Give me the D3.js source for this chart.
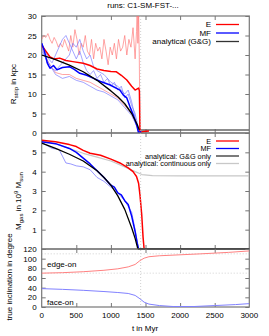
<!DOCTYPE html>
<html>
<head>
<meta charset="utf-8">
<script src="https://cdn.jsdelivr.net/npm/d3@7"></script>
<style>
body { margin:0; background:#fff; }
text { font-family: "Liberation Sans", Arial, sans-serif; font-size:8px; fill:#000; }
</style>
</head>
<body>
<div id="main"></div>
<script>

// ---- top panel: stripping radius (kpc) ----
var rE = [[0,22.5],[60,21],[120,19.5],[180,19],[260,19.2],[350,18.6],[450,18.3],[600,17.9],[700,17.3],[800,16.4],[900,16],[1000,15.8],[1080,15.7],[1150,14.8],[1230,13.6],[1300,12],[1350,11],[1400,11.5],[1412,10.8],[1420,0.2],[1480,0.4],[1550,0.5]]
var rMF = [[0,23],[40,21],[80,18],[120,16.6],[170,17.3],[220,16.2],[300,16.8],[400,17],[470,16.3],[550,15.3],[650,14.8],[750,14],[850,13.2],[990,12.3],[1130,11],[1180,9.7],[1230,9],[1276,6.7],[1324,4.6],[1373,2],[1397,0.2],[1440,0.3]]
var rGG = [[0,20],[200,18.8],[400,17.4],[600,15.7],[800,13.5],[1000,10.8],[1100,9.3],[1200,7.5],[1300,5],[1380,2.2],[1410,0.8]]
var rGGflat = [[1410,0.8],[3000,0.8]]
var rEthinA = [[0,24],[30,25],[60,24.5],[90,25.5],[120,24],[150,23],[180,24.5],[210,23.5],[240,22],[270,23],[300,22],[330,24],[360,22.5],[390,21],[420,25],[450,22],[480,26.5],[510,24],[540,20],[570,23],[600,22],[630,25],[660,21],[690,20],[720,24],[750,19],[780,23],[810,21],[840,22],[870,19],[900,24],[930,21],[960,17.5],[990,22],[1020,20],[1050,23],[1080,19],[1110,24],[1140,21],[1170,22],[1200,25],[1230,20],[1260,24],[1290,22],[1320,27],[1350,19],[1370,26],[1380,33],[1390,23],[1400,31],[1410,20],[1420,0]]
var rEthinB = [[0,22],[100,18],[200,15.5],[300,15],[400,15],[500,14],[600,13.5],[700,13],[800,12],[900,11],[1000,10],[1100,9],[1200,7],[1300,5],[1380,2],[1420,0]]
var rMFthinA = [[0,23],[50,21],[100,19],[150,18],[200,20],[250,22],[300,24],[350,25],[400,23],[450,21],[500,19],[550,21],[600,18],[650,16],[700,15],[750,16],[800,14],[850,15],[900,13],[950,14],[1000,12],[1050,13],[1100,11],[1150,12],[1200,9],[1250,10],[1300,7],[1350,5],[1400,1],[1420,0]]
var rMFthinB = [[0,22],[100,17],[200,16],[300,18],[400,20],[450,23],[500,22],[550,24],[600,21],[650,19],[700,20],[750,17],[800,16],[900,15],[1000,13],[1100,12],[1200,10],[1250,11],[1300,8],[1350,4],[1400,0.5]]
var rMFthinC = [[0,21],[100,18],[200,15],[300,14],[400,14.5],[500,13.5],[600,13],[700,12],[800,11],[900,10.5],[1000,9.5],[1100,8.5],[1200,6.5],[1300,4.5],[1380,1.5],[1400,0.3]]

// ---- middle panel: gas mass (10^9 Msun) ----
var mE = [[0,5.62],[200,5.55],[400,5.4],[500,5.3],[600,5.1],[700,4.95],[850,4.85],[1000,4.65],[1130,4.45],[1250,4.2],[1320,4],[1370,3.75],[1400,3.4],[1420,2.8],[1445,1.8],[1465,0.6],[1480,0]]
var mMF = [[0,5.55],[200,5.45],[400,5.2],[500,5],[600,4.7],[700,4.4],[800,4.05],[900,3.7],[1000,3.3],[1050,3.2],[1100,2.9],[1150,2.8],[1200,2.5],[1250,2.3],[1300,1.7],[1350,0.9],[1380,0.3],[1400,0]]
var mMFthin = [[0,5.55],[100,5.3],[150,5.2],[250,5.15],[300,4.8],[350,4.45],[420,4.4],[500,4.3],[600,4.25],[700,4.1],[800,3.7],[900,3.5],[1000,3.2],[1100,2.9],[1200,2.5],[1300,1.9],[1350,1],[1400,0]]
var mGG = [[0,5.48],[200,5.2],[400,4.9],[600,4.55],[800,4.05],[900,3.7],[1000,3.3],[1100,2.75],[1200,2.05],[1300,1.1],[1350,0.55],[1390,0],[3000,0]]
var mCont = [[0,5.6],[200,5.45],[400,5.2],[600,4.95],[800,4.75],[1000,4.55],[1200,4.25],[1350,4],[1450,3.85],[1600,3.8],[2000,3.78],[3000,3.78]]

// ---- bottom panel: inclination (degree) ----
var iEdge = [[0,70],[300,71],[600,73],[900,76],[1100,79],[1250,83],[1350,88],[1420,96],[1480,101],[1550,104],[1700,106],[2000,108],[2300,110],[2700,113],[3000,116]]
var iFace = [[0,38],[300,36.5],[600,34.5],[900,32],[1100,30],[1250,28],[1350,24],[1420,17],[1480,10],[1550,6],[1700,3],[1900,1],[2200,1],[2500,3],[2800,5],[3000,7]]

var xTicks = [0,500,1000,1500,2000,2500,3000]
var rTicks = [0,5,10,15,20,25,30]
var mTicks = [1,2,3,4,5]
var iTicks = [0,20,40,60,80,100,120]
var iGrid = [70,110]
var tPeri = 1430

var svg = d3.select('#main')
  .append('svg')
  .attr("width", 269)
  .attr("height", 336)

var x = d3.scaleLinear().domain([0,3000]).range([41.7,249.3])
var yR = d3.scaleLinear().domain([0,30]).range([133,16])
var yM = d3.scaleLinear().domain([0,6]).range([249,133])
var yI = d3.scaleLinear().domain([0,120]).range([307,249])

var frameCol = "#777"

function panel(id, y, ticks, labels) {
  var g = svg.append('g')
  g.append('clipPath').attr('id', id)
    .append('rect')
    .attr('x', x.range()[0]).attr('y', y.range()[1])
    .attr('width', x.range()[1]-x.range()[0])
    .attr('height', y.range()[0]-y.range()[1])

  // inward ticks, all four sides
  var ax = d3.axisLeft(y).tickValues(ticks).tickSize(-4).tickPadding(5)
    .tickFormat(d => labels.indexOf(d) >= 0 ? d : "")
  g.append('g').attr('transform', 'translate(' + x.range()[0] + ',0)').call(ax)
  g.append('g').attr('transform', 'translate(' + x.range()[1] + ',0)')
    .call(d3.axisRight(y).tickValues(ticks).tickSize(-4).tickFormat(""))
  g.append('g').attr('transform', 'translate(0,' + y.range()[1] + ')')
    .call(d3.axisTop(x).tickValues(xTicks.slice(1,-1)).tickSize(-4).tickFormat(""))
  g.append('g').attr('transform', 'translate(0,' + y.range()[0] + ')')
    .call(d3.axisBottom(x).tickValues(xTicks.slice(1,-1)).tickSize(-4).tickFormat(""))
  g.selectAll('.domain').remove()
  g.selectAll('.tick line').attr('stroke', frameCol).attr('stroke-width', 1)
  g.selectAll('.tick text').style('font-size', '8px')

  var c = svg.append('g').attr('clip-path', 'url(#' + id + ')')
  return {g: g, c: c, y: y}
}

function draw(p, data, color, width, opacity) {
  p.c.append('path')
    .datum(data)
    .attr('fill', 'none')
    .attr('stroke', color)
    .attr('stroke-width', width)
    .attr('stroke-opacity', opacity)
    .attr('stroke-linejoin', 'round')
    .attr('d', d3.line().x(d => x(d[0])).y(d => p.y(d[1])))
}

var pR = panel('clipR', yR, rTicks, rTicks)
var pM = panel('clipM', yM, [0,1,2,3,4,5,6], mTicks)
var pI = panel('clipI', yI, iTicks, iTicks)

// dotted guides
iGrid.forEach(v => {
  pI.c.append('line')
    .attr('x1', x(0)).attr('x2', x(3000))
    .attr('y1', yI(v)).attr('y2', yI(v))
    .attr('stroke', '#bbb').attr('stroke-width', 0.7).attr('stroke-dasharray', '1,2')
})
svg.append('line')
  .attr('x1', x(tPeri)).attr('x2', x(tPeri))
  .attr('y1', yR(30)).attr('y2', yI(0))
  .attr('stroke', '#bbb').attr('stroke-width', 0.7).attr('stroke-dasharray', '1,2')

// top
draw(pR, rEthinA, '#ff7070', 0.8, 0.8)
draw(pR, rEthinB, '#ff7070', 0.8, 0.8)
draw(pR, rMFthinA, '#7070ff', 0.8, 0.8)
draw(pR, rMFthinB, '#7070ff', 0.8, 0.8)
draw(pR, rMFthinC, '#7070ff', 0.8, 0.8)
draw(pR, rGGflat, '#666', 1.5, 1)
draw(pR, rE, '#ff0000', 1.5, 1)
draw(pR, rMF, '#0000ff', 1.5, 1)
draw(pR, rGG, '#000', 1.3, 1)

// middle
draw(pM, mCont, '#c8c8c8', 1.2, 1)
draw(pM, mMFthin, '#7070ff', 0.8, 0.9)
draw(pM, mMF, '#0000ff', 1.5, 1)
draw(pM, mE, '#ff0000', 1.5, 1)
draw(pM, mGG, '#000', 1.3, 1)

// bottom
draw(pI, iEdge, '#ff8080', 1, 1)
draw(pI, iFace, '#8080ff', 1, 1)

// frames
;[pR, pM, pI].forEach(p => {
  p.g.append('rect')
    .attr('x', x.range()[0]).attr('y', p.y.range()[1])
    .attr('width', x.range()[1]-x.range()[0])
    .attr('height', p.y.range()[0]-p.y.range()[1])
    .attr('fill', 'none').attr('stroke', frameCol).attr('stroke-width', 1.2)
})
// analytical mass line lies on the panel boundary after stripping
pM.g.append('path')
  .datum(mGG.filter(d => d[1] == 0))
  .attr('fill', 'none').attr('stroke', '#000').attr('stroke-width', 1.5)
  .attr('d', d3.line().x(d => x(d[0])).y(d => yM(d[1])))

// x tick labels on the bottom panel
xTicks.forEach(t => {
  svg.append('text').text(t)
    .attr('x', x(t)).attr('y', 318)
    .attr('text-anchor', 'middle')
})

// legends
var legR = [["E", "#ff0000"], ["MF", "#0000ff"], ["analytical (G&G)", "#333"]]
var legM = [["E", "#ff0000"], ["MF", "#0000ff"], ["analytical: G&G only", "#333"], ["analytical: continuous only", "#c8c8c8"]]

function legend(items, y0, dy, fs) {
  items.forEach((d,i) => {
    svg.append('text').text(d[0])
      .attr('x', 211).attr('y', y0 + i*dy).attr('dy', '0.35em')
      .attr('text-anchor', 'end')
      .style('font-size', fs + 'px')
    svg.append('line')
      .attr('x1', 216).attr('x2', 239)
      .attr('y1', y0 + i*dy).attr('y2', y0 + i*dy)
      .attr('stroke', d[1]).attr('stroke-width', 1.3)
  })
}
legend(legR, 24.5, 8.5, 8)
legend(legM, 141, 7.5, 7.3)

// annotations
svg.append('text').text('edge-on').attr('x', 47).attr('y', 267)
svg.append('text').text('face-on').attr('x', 47).attr('y', 305)

svg.append('text').text('runs: C1-SM-FST-...')
  .attr('x', 143).attr('y', 7.5).attr('text-anchor', 'middle')
svg.append('text').text('t in Myr')
  .attr('x', 145).attr('y', 331).attr('text-anchor', 'middle')

var lab1 = svg.append('text').attr('transform', 'translate(16,84)rotate(-90)').attr('text-anchor', 'middle')
lab1.append('tspan').text('R')
lab1.append('tspan').text('strip').attr('dy', 2).style('font-size', '6px')
lab1.append('tspan').text(' in kpc').attr('dy', -2)

var lab2 = svg.append('text').attr('transform', 'translate(21,201)rotate(-90)').attr('text-anchor', 'middle')
lab2.append('tspan').text('M')
lab2.append('tspan').text('gas').attr('dy', 2).style('font-size', '6px')
lab2.append('tspan').text(' in 10').attr('dy', -2)
lab2.append('tspan').text('9').attr('dy', -3).style('font-size', '6px')
lab2.append('tspan').text(' M').attr('dy', 3)
lab2.append('tspan').text('sun').attr('dy', 2).style('font-size', '6px')

svg.append('text').text('true inclination in degree')
  .attr('transform', 'translate(12,277)rotate(-90)').attr('text-anchor', 'middle')

</script>
</body>
</html>
